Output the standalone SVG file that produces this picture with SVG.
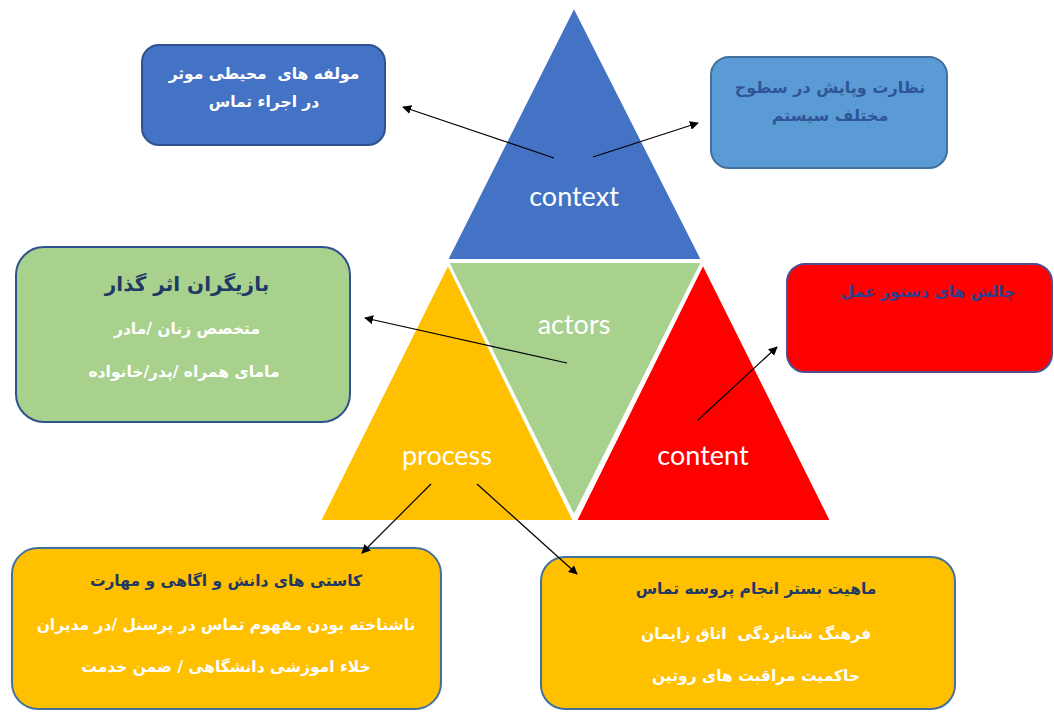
<svg xmlns="http://www.w3.org/2000/svg" width="1054" height="713" viewBox="0 0 1054 713">
  <defs>
    <marker id="arrow" viewBox="0 0 10 10" refX="9" refY="5" markerWidth="9" markerHeight="9" markerUnits="userSpaceOnUse" orient="auto">
      <path d="M0,0 L10,5 L0,10 z" fill="#000"/>
    </marker>
    <style>
      .tri { stroke: #fff; stroke-width: 2; stroke-linejoin: round; }
      .lbl { font-family: Lato, "Open Sans", "Liberation Sans", sans-serif; font-size: 27px; fill: #fff; text-anchor: middle; }
      .box { stroke-width: 2; }
      .fa { font-family: "DejaVu Sans", "Noto Sans", sans-serif; font-weight: bold; font-size: 15.5px; text-anchor: middle; direction: rtl; unicode-bidi: embed; white-space: pre; }
      .w { fill: #fff; }
      .d { fill: #203864; }
      .conn line { stroke: #000; stroke-width: 1.2; marker-end: url(#arrow); }
    </style>
  </defs>
  <rect width="1054" height="713" fill="#fff"/>

  <!-- four-part triangle -->
  <g id="context">
    <polygon class="tri" points="574,7 447,260 702,260" fill="#4472C4"/>
    <text class="lbl" x="574" y="206">context</text>
  </g>
  <g id="actors">
    <polygon class="tri" points="448,262 702,262 574,516" fill="#A9D18E"/>
    <text class="lbl" x="574" y="334">actors</text>
  </g>
  <g id="process">
    <polygon class="tri" points="448,264 320,521 574,521" fill="#FFC000"/>
    <text class="lbl" x="447" y="465">process</text>
  </g>
  <g id="content">
    <polygon class="tri" points="703,264 576,521 831,521" fill="#FF0000"/>
    <text class="lbl" x="703" y="465">content</text>
  </g>

  <!-- callout boxes -->
  <g id="env-factors">
    <rect class="box" x="142" y="45" width="243" height="100" rx="17" fill="#4472C4" stroke="#2F528F"/>
    <text class="fa w" x="264" y="79">مولفه های  محیطی موثر</text>
    <text class="fa w" x="264" y="107">در اجراء تماس</text>
  </g>
  <g id="monitoring">
    <rect class="box" x="711" y="57" width="236" height="111" rx="18" fill="#5B9BD5" stroke="#41719C"/>
    <text class="fa" x="830" y="93" fill="#2F5597" style="font-size:16px">نظارت وپایش در سطوح</text>
    <text class="fa" x="830" y="121" fill="#2F5597" style="font-size:16px">مختلف سیستم</text>
  </g>
  <g id="stakeholders">
    <rect class="box" x="16" y="247" width="334" height="175" rx="28" fill="#A9D18E" stroke="#2F528F"/>
    <text class="fa d" x="187" y="291" style="font-size:20px">بازیگران اثر گذار</text>
    <text class="fa w" x="187" y="334">متخصص زنان /مادر</text>
    <text class="fa w" x="184" y="377">مامای همراه /پدر/خانواده</text>
  </g>
  <g id="challenges">
    <rect class="box" x="787" y="264" width="265" height="108" rx="18" fill="#FF0000" stroke="#4E4F8C"/>
    <text class="fa" x="928" y="297" fill="#2F3F8F">چالش های دستور عمل</text>
  </g>
  <g id="knowledge-gaps">
    <rect class="box" x="12" y="548" width="429" height="161" rx="26" fill="#FFC000" stroke="#41719C"/>
    <text class="fa d" x="226" y="586">کاستی های دانش و اگاهی و مهارت</text>
    <text class="fa w" x="226" y="630">ناشناخته بودن مفهوم تماس در پرسنل /در مدیران</text>
    <text class="fa w" x="226" y="672">خلاء اموزشی دانشگاهی / ضمن خدمت</text>
  </g>
  <g id="setting">
    <rect class="box" x="541" y="557" width="414" height="152" rx="24" fill="#FFC000" stroke="#41719C"/>
    <text class="fa d" x="756" y="594">ماهیت بستر انجام پروسه تماس</text>
    <text class="fa w" x="756" y="639">فرهنگ شتابزدگی  اتاق زایمان</text>
    <text class="fa w" x="756" y="681">حاکمیت مراقبت های روتین</text>
  </g>

  <!-- connectors -->
  <g class="conn" id="connectors">
    <line x1="554" y1="158" x2="403" y2="107"/>
    <line x1="593" y1="157" x2="698" y2="123"/>
    <line x1="567" y1="363" x2="365" y2="318"/>
    <line x1="698" y1="420" x2="777" y2="347"/>
    <line x1="431" y1="484" x2="362" y2="553"/>
    <line x1="477" y1="484" x2="577" y2="574"/>
  </g>
</svg>
